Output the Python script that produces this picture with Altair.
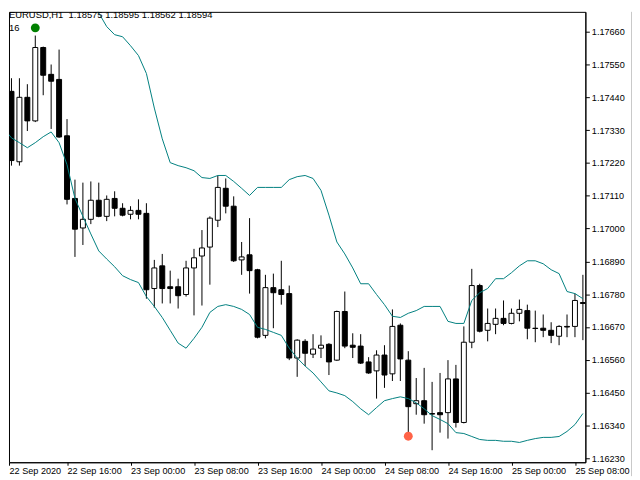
import json
import altair as alt
import pandas as pd

# ---------------- data ----------------
opens = [1.17520, 1.17460, 1.17224, 1.17440, 1.17361, 1.17607, 1.17517, 1.17500, 1.17311, 1.17101,
         1.17002, 1.17031, 1.17095, 1.17041, 1.17101, 1.17068, 1.17048, 1.17061, 1.17051, 1.16799,
         1.16875, 1.16805, 1.16805, 1.16779, 1.16868, 1.16908, 1.16938, 1.17028, 1.17135, 1.17075,
         1.16895, 1.16912, 1.16862, 1.16642, 1.16802, 1.16795, 1.16782, 1.16566, 1.16622, 1.16579,
         1.16599, 1.16612, 1.16559, 1.16722, 1.16609, 1.16606, 1.16553, 1.16523, 1.16576, 1.16513,
         1.16676, 1.16559, 1.16413, 1.16423, 1.16380, 1.16383, 1.16383, 1.16496, 1.16350, 1.16619,
         1.16809, 1.16659, 1.16679, 1.16699, 1.16682, 1.16716, 1.16725, 1.16666, 1.16666, 1.16659,
         1.16639, 1.16672, 1.16672, 1.16752]
highs = [1.17574, 1.17504, 1.17504, 1.17484, 1.17647, 1.17610, 1.17550, 1.17600, 1.17367, 1.17164,
         1.17154, 1.17158, 1.17154, 1.17111, 1.17125, 1.17085, 1.17075, 1.17098, 1.17085, 1.16895,
         1.16915, 1.16859, 1.16832, 1.16892, 1.16932, 1.16995, 1.17041, 1.17178, 1.17168, 1.17108,
         1.16955, 1.17035, 1.16865, 1.16845, 1.16849, 1.16892, 1.16809, 1.16629, 1.16629, 1.16646,
         1.16642, 1.16616, 1.16725, 1.16789, 1.16649, 1.16646, 1.16569, 1.16592, 1.16609, 1.16729,
         1.16682, 1.16589, 1.16499, 1.16533, 1.16486, 1.16516, 1.16559, 1.16543, 1.16672, 1.16865,
         1.16815, 1.16732, 1.16732, 1.16759, 1.16732, 1.16762, 1.16745, 1.16725, 1.16712, 1.16686,
         1.16676, 1.16712, 1.16782, 1.16845]
lows = [1.17437, 1.17211, 1.17211, 1.17327, 1.17357, 1.17447, 1.17334, 1.17304, 1.17081, 1.16905,
        1.16945, 1.17015, 1.17038, 1.17025, 1.17041, 1.17041, 1.17031, 1.17031, 1.16765, 1.16735,
        1.16749, 1.16749, 1.16732, 1.16772, 1.16709, 1.16742, 1.16812, 1.17005, 1.17051, 1.16888,
        1.16845, 1.16782, 1.16632, 1.16632, 1.16666, 1.16745, 1.16559, 1.16503, 1.16539, 1.16566,
        1.16566, 1.16509, 1.16556, 1.16599, 1.16566, 1.16546, 1.16513, 1.16430, 1.16466, 1.16489,
        1.16489, 1.16313, 1.16376, 1.16346, 1.16257, 1.16316, 1.16296, 1.16333, 1.16347, 1.16599,
        1.16652, 1.16622, 1.16646, 1.16676, 1.16679, 1.16689, 1.16629, 1.16619, 1.16636, 1.16616,
        1.16609, 1.16636, 1.16636, 1.16626]
closes = [1.17464, 1.17228, 1.17440, 1.17361, 1.17607, 1.17514, 1.17494, 1.17307, 1.17098, 1.16998,
          1.17031, 1.17095, 1.17041, 1.17098, 1.17068, 1.17045, 1.17061, 1.17048, 1.16795, 1.16868,
          1.16799, 1.16799, 1.16775, 1.16868, 1.16902, 1.16935, 1.17035, 1.17138, 1.17075, 1.16892,
          1.16905, 1.16859, 1.16636, 1.16802, 1.16785, 1.16779, 1.16566, 1.16626, 1.16582, 1.16596,
          1.16609, 1.16553, 1.16722, 1.16606, 1.16602, 1.16549, 1.16516, 1.16576, 1.16509, 1.16672,
          1.16563, 1.16403, 1.16423, 1.16376, 1.16378, 1.16376, 1.16496, 1.16350, 1.16619, 1.16809,
          1.16656, 1.16682, 1.16699, 1.16682, 1.16716, 1.16729, 1.16666, 1.16665, 1.16659, 1.16642,
          1.16672, 1.16670, 1.16759, 1.16749]

upper_start = 10
upper_band = [1.17836, 1.17780, 1.17723, 1.17677, 1.17650, 1.17643, 1.17613, 1.17580, 1.17520, 1.17404,
              1.17301, 1.17221, 1.17211, 1.17204, 1.17194, 1.17171, 1.17168, 1.17178, 1.17178, 1.17158,
              1.17135, 1.17111, 1.17138, 1.17138, 1.17138, 1.17138, 1.17164, 1.17174, 1.17178, 1.17168,
              1.17128, 1.17045, 1.16955, 1.16915, 1.16868, 1.16815, 1.16815, 1.16779, 1.16745, 1.16706,
              1.16702, 1.16716, 1.16725, 1.16739, 1.16739, 1.16739, 1.16689, 1.16682, 1.16682, 1.16759,
              1.16785, 1.16799, 1.16832, 1.16832, 1.16852, 1.16875, 1.16892, 1.16892, 1.16882, 1.16862,
              1.16849, 1.16789, 1.16782, 1.16765]
lower_band = [1.17337, 1.17304, 1.17288, 1.17271, 1.17288, 1.17308, 1.17324, 1.17288, 1.17214, 1.17101,
              1.17041, 1.16982, 1.16925, 1.16898, 1.16872, 1.16842, 1.16829, 1.16819, 1.16772, 1.16739,
              1.16702, 1.16659, 1.16616, 1.16599, 1.16632, 1.16669, 1.16719, 1.16739, 1.16745, 1.16739,
              1.16729, 1.16712, 1.16669, 1.16662, 1.16652, 1.16642, 1.16599, 1.16566, 1.16539, 1.16516,
              1.16486, 1.16456, 1.16449, 1.16440, 1.16420, 1.16396, 1.16376, 1.16400, 1.16423, 1.16430,
              1.16436, 1.16430, 1.16416, 1.16396, 1.16373, 1.16360, 1.16346, 1.16316, 1.16313, 1.16303,
              1.16293, 1.16290, 1.16290, 1.16287, 1.16287, 1.16283, 1.16290, 1.16296, 1.16300, 1.16300,
              1.16303, 1.16320, 1.16343, 1.16380]

signal_bars = [4, 51]
signal_prices = [1.17673, 1.16304]
signal_kinds = ["buy", "sell"]

tick_bars = [0, 8, 16, 24, 32, 40, 48, 56, 64, 72]
tick_labels = ["22 Sep 2020", "22 Sep 16:00", "23 Sep 00:00", "23 Sep 08:00", "23 Sep 16:00",
               "24 Sep 00:00", "24 Sep 08:00", "24 Sep 16:00", "25 Sep 00:00", "25 Sep 08:00"]
price_ticks = [1.16230, 1.16340, 1.16450, 1.16560, 1.16670, 1.16780, 1.16890, 1.17000,
               1.17110, 1.17220, 1.17330, 1.17440, 1.17550, 1.17660]

header_text = "EURUSD,H1\u00a0\u00a01.18575 1.18595 1.18562 1.18594"
counter_text = "16"

# ---------------- frames ----------------
n = len(opens)
candles = pd.DataFrame({"i": list(range(n)), "o": opens, "h": highs, "l": lows, "c": closes})
upper_df = pd.DataFrame({"i": list(range(upper_start, upper_start + len(upper_band))), "v": upper_band})
lower_df = pd.DataFrame({"i": list(range(len(lower_band))), "v": lower_band})
signals = pd.DataFrame({"i": signal_bars, "p": signal_prices, "kind": signal_kinds})

FONT = "Liberation Sans"
FS = 9.2
X_MIN, X_MAX = 0.6875, 73.3125
Y_MIN, Y_MAX = 1.1621667, 1.177265

xscale = alt.Scale(domain=[X_MIN, X_MAX], nice=False, zero=False, padding=0)
yscale = alt.Scale(domain=[Y_MIN, Y_MAX], nice=False, zero=False, padding=0)

xaxis = alt.Axis(
    orient="bottom", values=[X_MIN + 0.001] + tick_bars[1:],
    labelExpr=json.dumps(tick_labels) + "[round(datum.value / 8)]",
    title=None, grid=False, tickSize=3, labelPadding=1.5, labelAlign="left",
    labelFont=FONT, labelFontSize=FS, labelColor="black",
    domainColor="black", tickColor="black", labelOverlap=False, labelFlush=False,
)
yaxis = alt.Axis(
    orient="right", values=price_ticks, format=".5f", title=None, grid=False,
    tickSize=4, labelPadding=2, labelFont=FONT, labelFontSize=FS, labelColor="black",
    domainColor="black", tickColor="black", labelOverlap=False,
)


def X(field):
    return alt.X(field, type="quantitative", scale=xscale, axis=xaxis)


def Y(field):
    return alt.Y(field, type="quantitative", scale=yscale, axis=yaxis)


wicks = alt.Chart(candles).mark_rule(color="black", strokeWidth=1, clip=True).encode(
    x=X("i"), y=Y("l"), y2="h"
)
bodies = alt.Chart(candles).mark_bar(size=5, stroke="black", strokeWidth=1, clip=True).encode(
    x=X("i"), y=Y("o"), y2="c",
    fill=alt.condition("datum.c >= datum.o", alt.value("white"), alt.value("black")),
)
upper_line = alt.Chart(upper_df).mark_line(color="#008080", strokeWidth=1, clip=True).encode(
    x=X("i"), y=Y("v")
)
lower_line = alt.Chart(lower_df).mark_line(color="#008080", strokeWidth=1, clip=True).encode(
    x=X("i"), y=Y("v")
)
dots = alt.Chart(signals).mark_point(filled=True, size=80, opacity=1, clip=True).encode(
    x=X("i"), y=Y("p"),
    color=alt.Color("kind:N", scale=alt.Scale(domain=["buy", "sell"], range=["#008000", "#FF6347"]),
                    legend=None),
)
header = alt.Chart(pd.DataFrame({"t": [header_text]})).mark_text(
    align="left", baseline="alphabetic", font=FONT, fontSize=FS + 0.3, color="black"
).encode(x=alt.value(0), y=alt.value(6.5), text="t:N")
counter = alt.Chart(pd.DataFrame({"t": [counter_text]})).mark_text(
    align="left", baseline="alphabetic", font=FONT, fontSize=FS + 0.3, color="black"
).encode(x=alt.value(0), y=alt.value(19.5), text="t:N")
window_edge = alt.Chart(pd.DataFrame({"t": [0]})).mark_rule(color="#C8C8C8", strokeWidth=1).encode(
    x=alt.value(627.5), y=alt.value(0), y2=alt.value(468)
)

chart = alt.layer(wicks, bodies, upper_line, lower_line, dots, header, counter, window_edge).properties(
    width=581, height=454, padding=0, background="white"
).configure_view(stroke="black", strokeWidth=1)

chart.save("out.html", embed_options={"renderer": "svg", "actions": False})
